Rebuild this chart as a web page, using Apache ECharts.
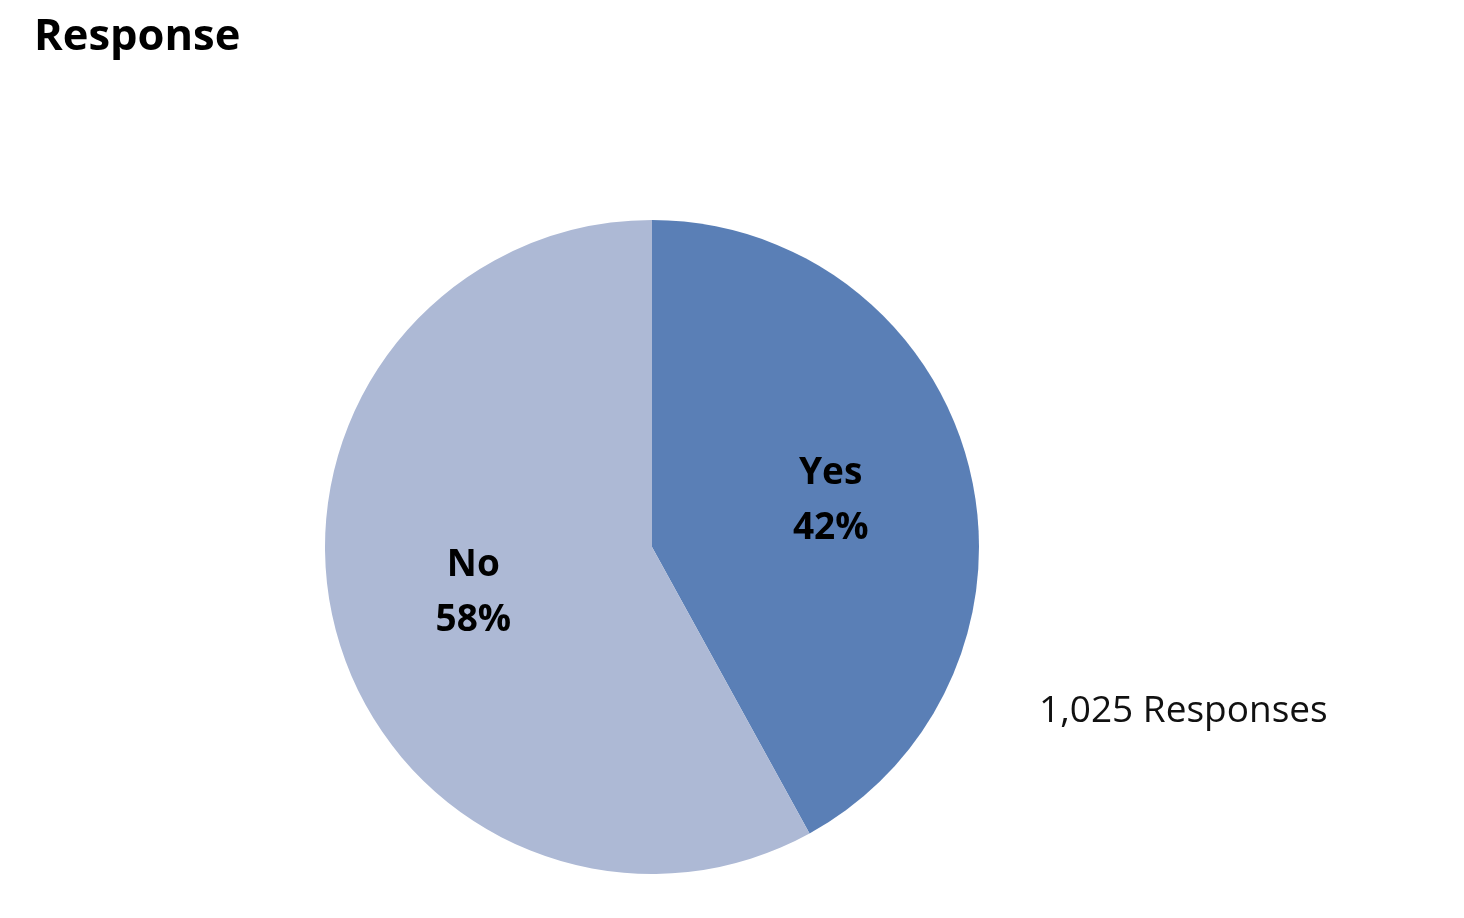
<!DOCTYPE html>
<html>
<head>
<meta charset="utf-8">
<script src="https://cdn.jsdelivr.net/npm/echarts@6/dist/echarts.min.js"></script>
<style>
html,body{margin:0;padding:0;background:#fff;}
#chart{width:1464px;height:918px;}
</style>
</head>
<body>
<div id="chart"></div>
<script>
const categories = ['Yes', 'No'];
const values = [42, 58];
const colors = ['#5a7fb6', '#adb9d5'];
const titleText = 'Response';
const noteText = '1,025 Responses';

const chart = echarts.init(document.getElementById('chart'));
const data = categories.map((c, i) => ({ name: c, value: values[i], itemStyle: { color: colors[i] } }));
const center = [652, 547];
const R = 327;
chart.setOption({
  animation: false,
  title: [
    { text: titleText, left: 29, top: 11, textStyle: { fontFamily: 'Open Sans', fontWeight: 'bold', fontSize: 43.5, color: '#000' } },
    { text: noteText, left: 1034, top: 688, textStyle: { fontFamily: 'Open Sans', fontWeight: 'normal', fontSize: 37, color: '#111' } }
  ],
  series: [
    {
      type: 'pie',
      center: center,
      radius: [0, R],
      startAngle: 90,
      clockwise: true,
      silent: true,
      label: { show: false },
      labelLine: { show: false },
      itemStyle: { borderWidth: 0 },
      data: data
    },
    {
      type: 'pie',
      center: center,
      radius: [36, R],
      startAngle: 90,
      clockwise: true,
      silent: true,
      z: 3,
      itemStyle: { color: 'rgba(0,0,0,0)', borderWidth: 0 },
      label: {
        show: true,
        position: 'inside',
        formatter: p => p.name + '\n' + p.value + '%',
        fontFamily: 'Open Sans',
        fontWeight: 'bold',
        fontSize: 37,
        lineHeight: 55,
        color: '#000'
      },
      labelLine: { show: false },
      data: categories.map((c, i) => ({ name: c, value: values[i] }))
    }
  ]
});
</script>
</body>
</html>
